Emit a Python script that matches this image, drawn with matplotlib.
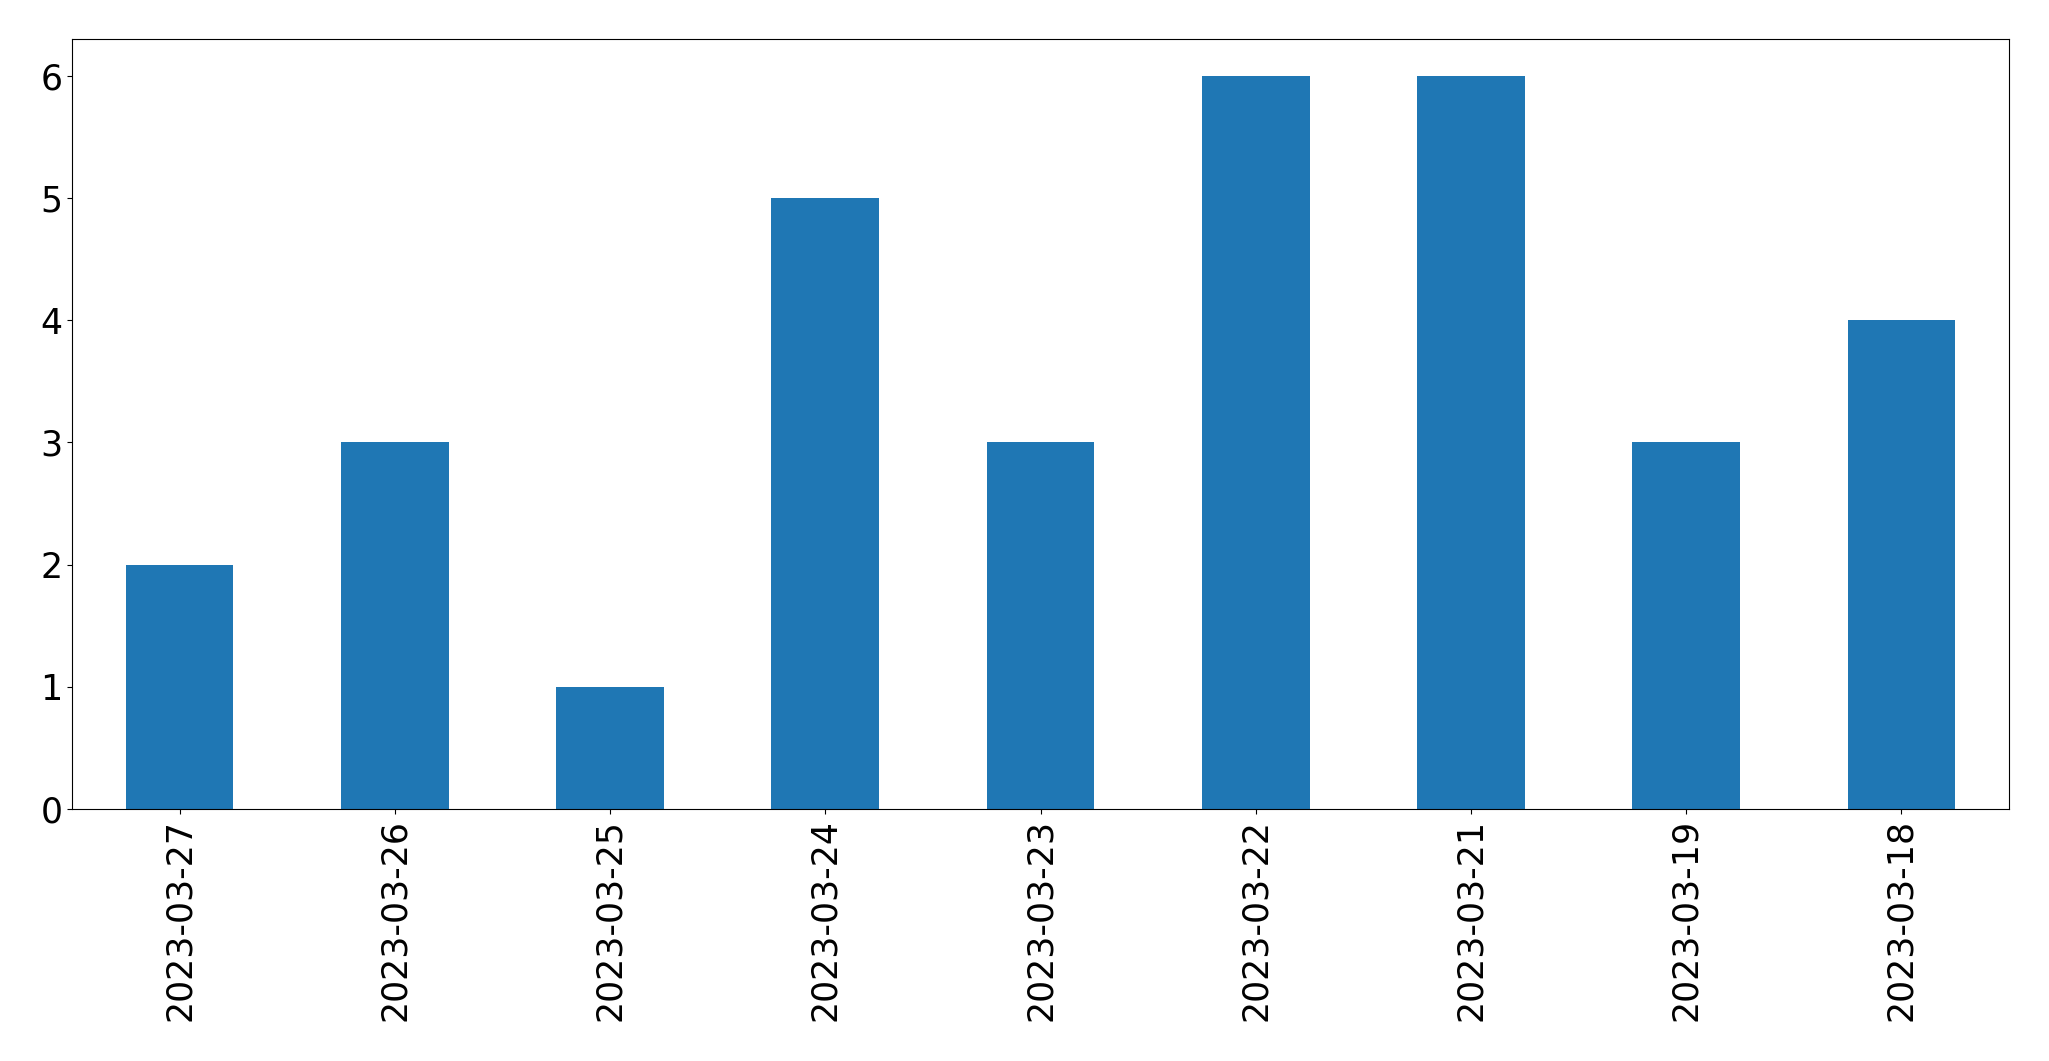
import matplotlib
matplotlib.use('Agg')
import matplotlib.pyplot as plt
import pandas as pd

dates = ['2023-03-27', '2023-03-26', '2023-03-25', '2023-03-24', '2023-03-23',
         '2023-03-22', '2023-03-21', '2023-03-19', '2023-03-18']
counts = [2, 3, 1, 5, 3, 6, 6, 3, 4]

series = pd.Series(counts, index=dates)

fig = plt.figure(figsize=(20.49, 10.61), dpi=100)
ax = fig.add_axes([72 / 2049, (1061 - 809) / 1061, (2009 - 72) / 2049, (809 - 39) / 1061])
series.plot(kind='bar', ax=ax, color='#1f77b4')
ax.tick_params(axis='both', labelsize=25)
plt.setp(ax.get_xticklabels(), rotation=90)

fig.savefig('out.png', dpi=100)
